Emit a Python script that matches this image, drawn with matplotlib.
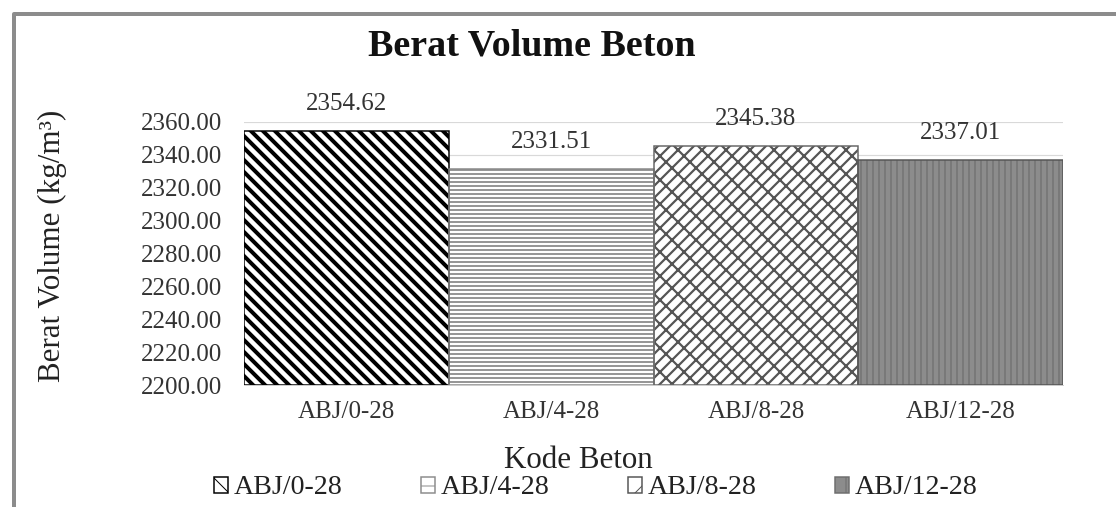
import matplotlib
matplotlib.use("Agg")
import matplotlib.pyplot as plt
from matplotlib.lines import Line2D
from matplotlib.patches import Patch
from matplotlib.ticker import FormatStrFormatter

categories = ["ABJ/0-28", "ABJ/4-28", "ABJ/8-28", "ABJ/12-28"]
values = [2354.62, 2331.51, 2345.38, 2337.01]
y_ticks = [2200, 2220, 2240, 2260, 2280, 2300, 2320, 2340, 2360]

title = "Berat Volume Beton"
x_title = "Kode Beton"
y_title = "Berat Volume (kg/m³)"

plt.rcParams["font.family"] = ["Liberation Serif", "DejaVu Serif"]

W, H = 1116, 507
DPI = 72
fig = plt.figure(figsize=(W / DPI, H / DPI), dpi=DPI)
ax = fig.add_axes([244 / W, 1 - 385 / H, (1063 - 244) / W, (385 - 122) / H])

styles = [
    dict(face="white", hatch="\\\\", hcol="black", edge="black", hlw=4.0),
    dict(face="white", hatch="---", hcol="#8c8c8c", edge="#888888", hlw=1.8),
    dict(face="white", hatch="//\\", hcol="#555555", edge="#666666", hlw=2.2),
    dict(face="#8c8c8c", hatch="||", hcol="#6e6e6e", edge="#555555", hlw=1.2),
]

x = list(range(len(categories)))
handles = []
for i, (cat, val, st) in enumerate(zip(categories, values, styles)):
    with plt.rc_context({"hatch.linewidth": st["hlw"]}):
        ax.bar(x[i], val - y_ticks[0], bottom=y_ticks[0], width=1.0,
               color=st["face"], edgecolor=st["hcol"], hatch=st["hatch"],
               linewidth=0, zorder=2)
    with plt.rc_context({"hatch.linewidth": 1.0}):
        handles.append(Patch(facecolor=st["face"], edgecolor=st["hcol"],
                             hatch=st["hatch"][0], linewidth=1.5))
    ax.bar(x[i], val - y_ticks[0], bottom=y_ticks[0], width=1.0,
           fill=False, edgecolor=st["edge"], linewidth=1.5, zorder=3)
    ax.annotate(f"{val:.2f}", xy=(x[i], val), xytext=(0, 27),
                textcoords="offset points", ha="center", va="center",
                fontsize=25, color="#333333", annotation_clip=False)

ax.set_xlim(-0.5, len(categories) - 0.5)
ax.set_ylim(y_ticks[0], y_ticks[-1])
ax.set_yticks(y_ticks)
ax.yaxis.set_major_formatter(FormatStrFormatter("%.2f"))
ax.set_xticks(x)
ax.set_xticklabels(categories)
ax.tick_params(axis="y", length=0, pad=22, labelsize=25, labelcolor="#333333")
ax.tick_params(axis="x", length=0, pad=16, labelsize=25, labelcolor="#333333")
ax.grid(axis="y", color="#d9d9d9", linewidth=1.2)
ax.set_axisbelow(True)
for s in ["top", "right", "left"]:
    ax.spines[s].set_visible(False)
ax.spines["bottom"].set_color("#bfbfbf")

fig.text(532 / W, 1 - 55 / H, title, ha="center", va="baseline",
         fontsize=38, fontweight="bold", color="#111111")
fig.text(578 / W, 1 - 468 / H, x_title, ha="center", va="baseline",
         fontsize=31, color="#222222")
fig.text(52 / W, 1 - 246 / H, y_title, ha="center", va="center",
         rotation=90, fontsize=31, color="#222222")

fig.legend(handles=handles, labels=categories, loc="center",
           bbox_to_anchor=(596 / W, 1 - 488 / H), ncol=4, frameon=False,
           fontsize=28, handlelength=0.5, handleheight=0.5,
           handletextpad=0.2, columnspacing=2.8, borderpad=0,
           labelcolor="#222222")

fig.add_artist(Line2D([13.5 / W, 13.5 / W, 1.02], [-0.02, 1 - 13.5 / H, 1 - 13.5 / H],
                      transform=fig.transFigure, color="#8c8c8c", linewidth=4))

fig.savefig("out.png", dpi=DPI)
